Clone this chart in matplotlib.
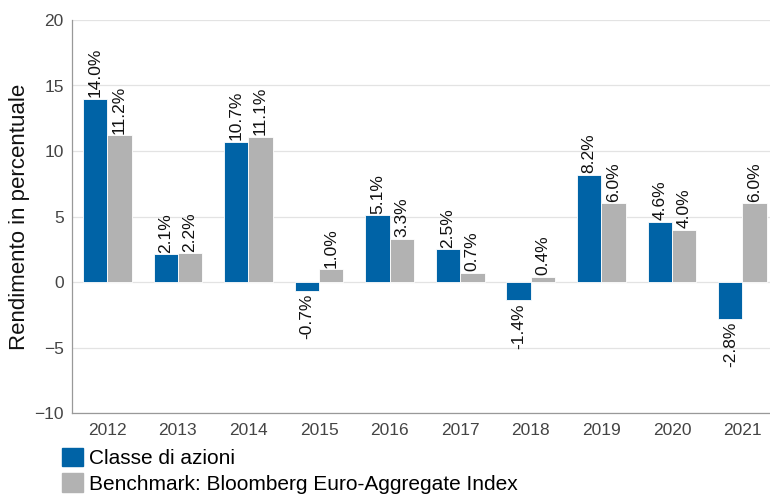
import numpy as np
import matplotlib.pyplot as plt
from matplotlib.patches import Patch

years = ['2012', '2013', '2014', '2015', '2016', '2017', '2018', '2019', '2020', '2021']
classe = [14.0, 2.1, 10.7, -0.7, 5.1, 2.5, -1.4, 8.2, 4.6, -2.8]
benchmark = [11.2, 2.2, 11.1, 1.0, 3.3, 0.7, 0.4, 6.0, 4.0, 6.0]
series_names = ['Classe di azioni', 'Benchmark: Bloomberg Euro-Aggregate Index']

blue = '#0063a6'
grey = '#b2b2b2'

plt.rcParams['font.family'] = ['Liberation Sans', 'DejaVu Sans']

fig = plt.figure(figsize=(7.7, 4.98), dpi=100)
ax = fig.add_axes([72 / 770, 85 / 498, 698 / 770, 393 / 498])

x = np.arange(len(years))
w = 0.345
b1 = ax.bar(x - w / 2, classe, w, color=blue, edgecolor='white', linewidth=0.6, zorder=3)
b2 = ax.bar(x + w / 2, benchmark, w, color=grey, edgecolor='white', linewidth=0.6, zorder=3)

for bars, vals in [(b1, classe), (b2, benchmark)]:
    for rect, v in zip(bars, vals):
        cx = rect.get_x() + rect.get_width() / 2
        if v >= 0:
            ax.annotate(f'{v:.1f}%', (cx, v), xytext=(0, 1), textcoords='offset points',
                        rotation=90, ha='center', va='bottom', fontsize=12.5, color='#111111')
        else:
            ax.annotate(f'{v:.1f}%', (cx, v), xytext=(0, -2), textcoords='offset points',
                        rotation=90, ha='center', va='top', fontsize=12.5, color='#111111')

ax.set_ylim(-10, 20)
ax.set_xlim(-0.5, 9.39)
ax.set_yticks(range(-10, 21, 5))
ax.set_xticks(x)
ax.set_xticklabels(years)
ax.tick_params(axis='both', length=0, labelsize=12.5, colors='#444444')
ax.tick_params(axis='x', pad=7)
ax.tick_params(axis='y', pad=6)
ax.grid(axis='y', color='#e3e3e3', linewidth=0.9, zorder=0)
for s in ['top', 'right']:
    ax.spines[s].set_visible(False)
for s in ['left', 'bottom']:
    ax.spines[s].set_color('#999999')
    ax.spines[s].set_linewidth(0.9)
ax.set_ylabel('Rendimento in percentuale', fontsize=16, color='#111111', labelpad=3)

handles = [Patch(color=blue), Patch(color=grey)]
fig.legend(handles, series_names, loc='lower left', bbox_to_anchor=(54 / 770, -0.008),
           frameon=False, fontsize=15, handlelength=1.0, handleheight=1.0,
           handletextpad=0.3, labelspacing=0.25, borderaxespad=0)

fig.savefig('out.png', dpi=100)
